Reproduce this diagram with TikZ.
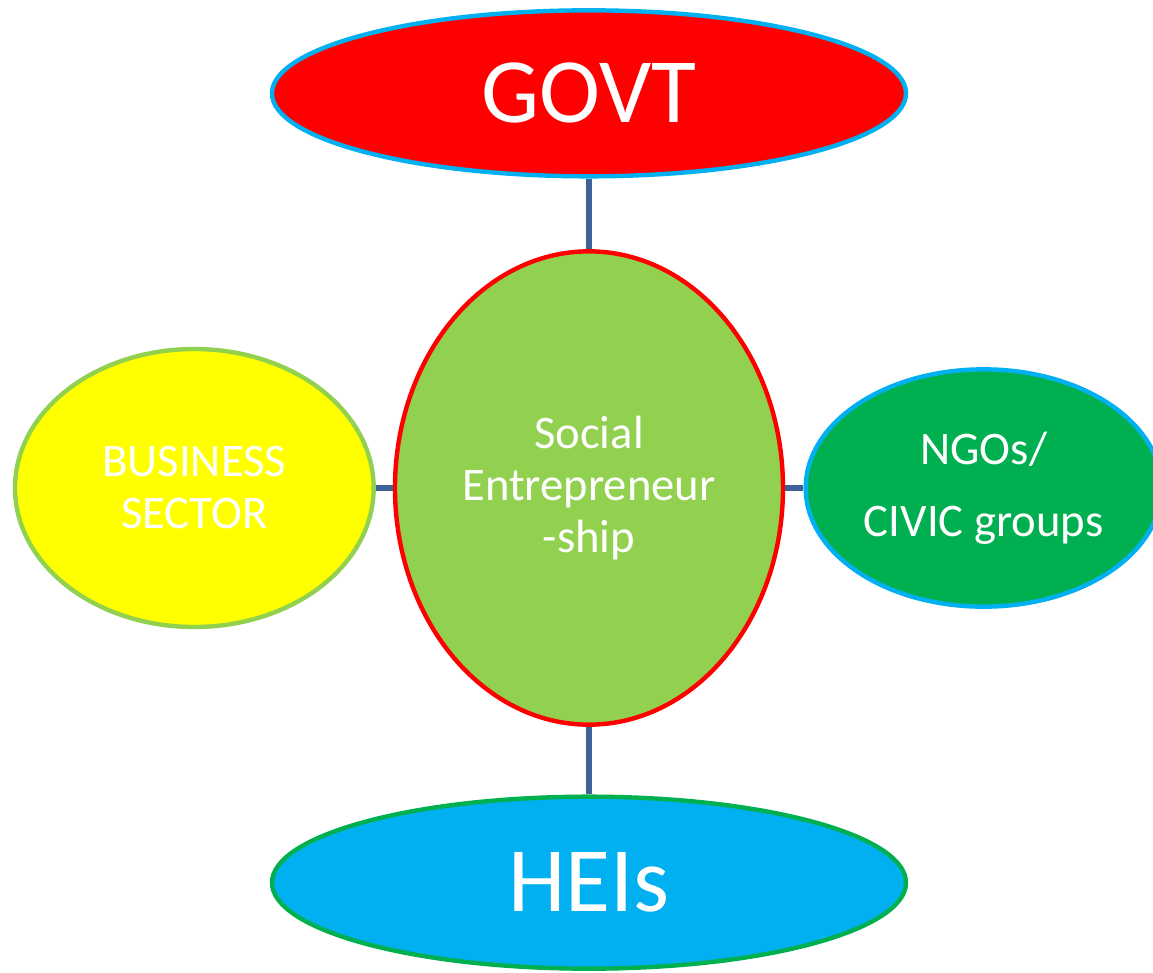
\documentclass[tikz,border=0pt]{standalone}
\usepackage{fontspec}
\setmainfont{Carlito}
\usepackage{tikz}
\usetikzlibrary{backgrounds}
\usetikzlibrary{positioning, shapes.geometric}
\definecolor{skyblue}{HTML}{00B0F0}
\definecolor{leaf}{HTML}{92D050}
\definecolor{grass}{HTML}{00B050}
\definecolor{lemon}{HTML}{FFFF00}
\definecolor{linkblue}{HTML}{3F6397}
\tikzset{node distance=296pt,
    blob/.style={ellipse,draw,line width=3.3pt,inner sep=0pt,text=white,align=center,
        font=\fontsize{35}{39}\selectfont},
    bigblob/.style={blob,minimum width=475.5pt,minimum height=124.5pt,
        font=\fontsize{69}{80}\selectfont},
    link/.style={draw=linkblue,line width=3.8pt}}
\begin{document}
\begin{tikzpicture}
\useasboundingbox (-441.75pt,-363pt) rectangle (423pt,366pt);
\clip (-441.75pt,-363pt) rectangle (423pt,366pt);
\node[blob,fill=leaf,draw=red,minimum width=291pt,minimum height=355pt] (s) {Social\\Entrepreneur\\-ship};
\node[bigblob,fill=red,draw=skyblue]  (g) [above of=s] {GOVT};
\node[bigblob,fill=skyblue,draw=grass,minimum height=129pt]  (h) [below of=s] {HEIs};
\node[blob,fill=lemon,draw=leaf,minimum width=269pt,minimum height=208.5pt]  (b) [left of=s] {BUSINESS\\SECTOR};
\node[blob,fill=grass,draw=skyblue,minimum width=267pt,minimum height=178pt]  (n) [right of=s] {NGOs/\\[15pt]CIVIC groups};
\begin{scope}[on background layer]
\path[link]
	(g)	edge 	[link] 	(s)
	(s)	edge 	[link] 	(h)
	(b)	edge 	[link] 	(s)
	(s)	edge 	[link] 	(n);
\end{scope}
\end{tikzpicture}
\end{document}
